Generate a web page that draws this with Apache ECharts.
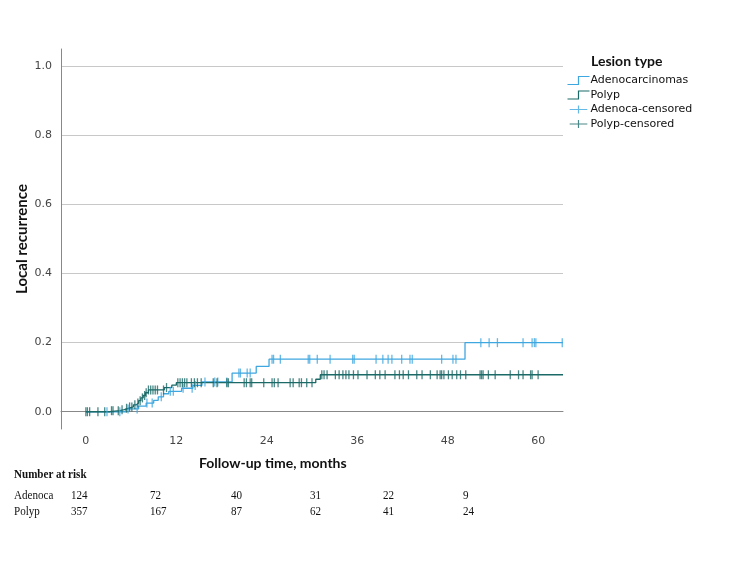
<!DOCTYPE html>
<html>
<head>
<meta charset="utf-8">
<script src="https://cdn.jsdelivr.net/npm/echarts@6/dist/echarts.min.js"></script>
<style>
  html, body { margin: 0; padding: 0; background: #fff; }
  #main { width: 750px; height: 563px; }
</style>
</head>
<body>
<div id="main"></div>
<script>
  // step points (months, cumulative local recurrence)
  var adenoTimes = [0, 5.3, 7.0, 8.0, 9.0, 9.6, 10.3, 11.0, 12.7, 14.2, 15.4, 19.4, 22.6, 24.3, 50.3, 63.3];
  var adenoRisk = [0, 0.008, 0.016, 0.025, 0.033, 0.043, 0.052, 0.059, 0.068, 0.076, 0.086, 0.112, 0.131, 0.152, 0.2, 0.2];
  var polypTimes = [0, 3.2, 4.5, 5.1, 5.6, 6.3, 6.7, 7.0, 7.3, 7.6, 7.9, 8.3, 10.4, 11.4, 12.0, 30.5, 31.1, 63.3];
  var polypRisk = [0, 0.003, 0.006, 0.010, 0.014, 0.020, 0.025, 0.032, 0.040, 0.047, 0.055, 0.063, 0.070, 0.077, 0.084, 0.094, 0.107, 0.107];

  // censoring times (months)
  var adenoCensored = [2.8, 4.5, 5.6, 6.8, 8.1, 8.8, 10.0, 11.2, 11.6, 12.9, 14.1, 14.5, 15.8, 17.1, 17.5, 18.7,
    20.3, 20.5, 21.4, 21.8, 24.7, 24.9, 25.8, 29.5, 29.7, 30.7, 32.4, 35.4, 35.6, 38.5, 39.4, 40.1, 40.6,
    41.9, 43.0, 43.3, 47.2, 48.7, 49.1, 52.4, 53.5, 54.6, 58.0, 59.2, 59.5, 59.7, 63.2];
  var polypCensored = [0, 0.2, 0.5, 1.6, 2.5, 3.4, 3.6, 4.3, 4.8, 5.4, 5.8, 6.1, 6.5, 6.9, 7.2, 7.5, 7.8, 8.0,
    8.3, 8.6, 8.9, 9.2, 9.5, 10.3, 10.7, 12.2, 12.5, 12.8, 13.1, 13.4, 14.0, 14.4, 14.8, 15.3, 16.9, 17.4,
    18.7, 18.9, 21.0, 21.3, 21.8, 22.0, 23.6, 24.7, 25.0, 25.5, 27.1, 27.5, 28.3, 28.6, 29.3, 30.0,
    31.3, 31.6, 32.0, 33.1, 33.6, 34.1, 34.5, 34.9, 35.5, 36.1, 37.3, 38.4, 39.0, 39.7, 41.0, 41.6, 42.1,
    42.8, 43.9, 44.6, 45.7, 46.6, 47.0, 47.2, 47.5, 48.1, 48.6, 49.2, 49.7, 50.4, 52.3, 52.5, 52.7, 53.4,
    54.3, 56.3, 57.4, 58.0, 59.0, 59.2, 60.0];

  var xTicks = [0, 12, 24, 36, 48, 60];
  var yTicks = [0, 0.2, 0.4, 0.6, 0.8, 1.0];

  // number at risk
  var riskGroups = ['Adenoca', 'Polyp'];
  var riskAdeno = [124, 72, 40, 31, 22, 9];
  var riskPolyp = [357, 167, 87, 62, 41, 24];

  var blue = '#3fa7e0';
  var teal = '#1b6a68';
  var sans = 'DejaVu Sans';
  var serif = '13.5px "Liberation Serif"';

  function stepValue(times, vals, t) {
    var v = vals[0];
    for (var i = 0; i < times.length; i++) {
      if (times[i] <= t) v = vals[i];
    }
    return v;
  }
  function pairs(times, vals) {
    return times.map(function (t, i) { return [t, vals[i]]; });
  }
  function censorPoints(ct, times, vals) {
    return ct.map(function (t) { return [t, stepValue(times, vals, t)]; });
  }
  // table text is a bit condensed in the original
  function tableText(txt, x, y, bold) {
    return { type: 'text', x: x, y: y, scaleX: 0.82,
      style: { text: txt, font: (bold ? 'bold ' : '') + serif, fill: '#111', verticalAlign: 'middle' } };
  }

  var chart = echarts.init(document.getElementById('main'));

  var riskCols = [71, 150, 231, 310, 383, 463];
  var graphics = [
    { type: 'text', left: 199, top: 456, style: { text: 'Follow-up time, months', font: 'bold 14px Lato', fill: '#111' } },
    tableText('Number at risk', 14, 475, true),
    tableText(riskGroups[0], 14, 495),
    tableText(riskGroups[1], 14, 511)
  ];
  riskCols.forEach(function (x, i) {
    graphics.push(tableText(String(riskAdeno[i]), x, 495));
    graphics.push(tableText(String(riskPolyp[i]), x, 511));
  });
  graphics.push({ type: 'text', left: 591, top: 54, style: { text: 'Lesion type', font: 'bold 14px Lato', fill: '#111' } });

  var stepIcon = 'path://M0,8 L11,8 L11,0 L22,0';
  var crossIcon = 'path://M0,5 L22,5 M11,0 L11,10';

  function legendItem(name, icon, color) {
    return { name: name, icon: icon,
      itemStyle: { color: 'none', borderColor: color, borderWidth: 1.2 },
      lineStyle: { color: color, width: 0, opacity: 0 } };
  }

  chart.setOption({
    animation: false,
    backgroundColor: '#fff',
    graphic: graphics,
    legend: {
      orient: 'vertical',
      left: 565,
      top: 74,
      padding: 0,
      itemWidth: 22,
      itemHeight: 8,
      itemGap: 1.5,
      selectedMode: false,
      textStyle: { fontFamily: sans, fontSize: 11, color: '#111', lineHeight: 12, padding: [0, 0, 0, -4] },
      data: [
        legendItem('Adenocarcinomas', stepIcon, blue),
        legendItem('Polyp', stepIcon, teal),
        legendItem('Adenoca-censored', crossIcon, blue),
        legendItem('Polyp-censored', crossIcon, teal)
      ]
    },
    grid: { left: 61, right: 187, top: 49, bottom: 134 },
    xAxis: {
      type: 'value',
      min: -3.3,
      max: 63.3,
      axisLine: { show: true, lineStyle: { color: '#888' } },
      axisTick: { show: false, customValues: xTicks },
      axisLabel: { customValues: xTicks, color: '#444', fontFamily: sans, fontSize: 11, margin: 7 },
      splitLine: { show: false }
    },
    yAxis: {
      type: 'value',
      min: -0.05,
      max: 1.05,
      name: 'Local recurrence',
      nameLocation: 'middle',
      nameGap: 31,
      nameMoveOverlap: false,
      nameTextStyle: { fontFamily: 'Lato', fontWeight: 'bold', fontSize: 15, color: '#111' },
      axisLine: { show: true, onZero: false, lineStyle: { color: '#888' } },
      axisTick: { show: false, customValues: yTicks },
      axisLabel: { customValues: yTicks, color: '#444', fontFamily: sans, fontSize: 11, margin: 9,
        formatter: function (v) { return v.toFixed(1); } },
      splitLine: { show: true, lineStyle: { color: '#c8c8c8', width: 1 } }
    },
    series: [
      { name: 'Adenocarcinomas', type: 'line', step: 'end', symbol: 'none', data: pairs(adenoTimes, adenoRisk),
        lineStyle: { color: blue, width: 1.3 }, itemStyle: { color: blue }, z: 3 },
      { name: 'Polyp', type: 'line', step: 'end', symbol: 'none', data: pairs(polypTimes, polypRisk),
        lineStyle: { color: teal, width: 1.3 }, itemStyle: { color: teal }, z: 4 },
      { name: 'Adenoca-censored', type: 'scatter', symbol: 'rect', symbolSize: [1.3, 9],
        data: censorPoints(adenoCensored, adenoTimes, adenoRisk), itemStyle: { color: blue }, z: 5 },
      { name: 'Polyp-censored', type: 'scatter', symbol: 'rect', symbolSize: [1.3, 9],
        data: censorPoints(polypCensored, polypTimes, polypRisk), itemStyle: { color: teal }, z: 6 }
    ]
  });
</script>
</body>
</html>
